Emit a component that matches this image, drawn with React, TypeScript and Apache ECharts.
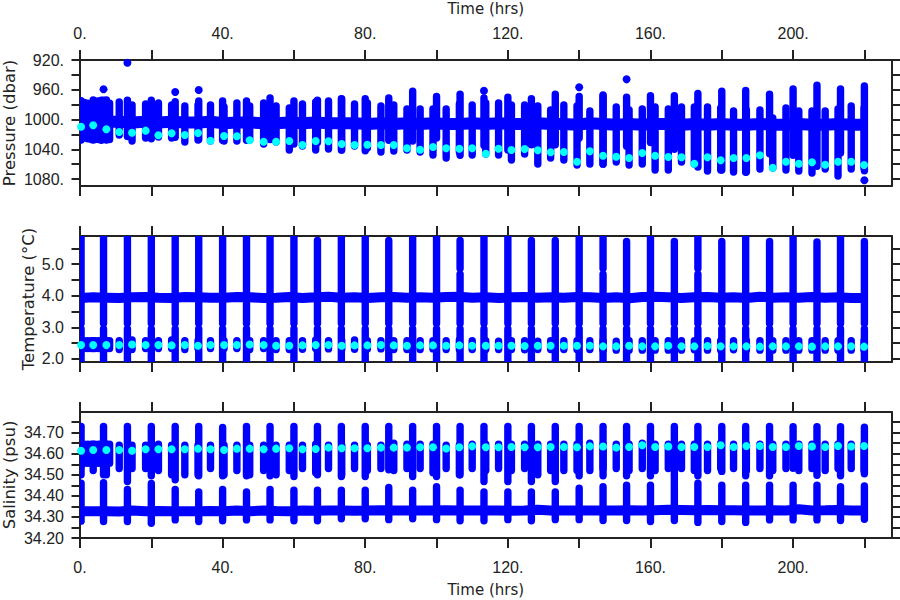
import React, { useEffect, useRef } from "react";
import * as echarts from "echarts";

const BLUE = "#0000ff";
const CYAN = "#00ffff";
const INK = "#222222";
const FONT = "'Liberation Sans', Arial, sans-serif";
const TITLE_FONT = "'DejaVu Sans', sans-serif";

const timeTicks = [0, 20, 40, 60, 80, 100, 120, 140, 160, 180, 200, 220];
const timeLabels = [0, 40, 80, 120, 160, 200];
const pressureTicks = [920, 940, 960, 980, 1000, 1020, 1040, 1060, 1080];
const pressureLabels = [920, 960, 1000, 1040, 1080];
const tempTicks = [2, 2.5, 3, 3.5, 4, 4.5, 5, 5.5];
const tempLabels = [2, 3, 4, 5];
const salTicks = [34.2, 34.25, 34.3, 34.35, 34.4, 34.45, 34.5, 34.55, 34.6, 34.65, 34.7, 34.75];
const salLabels = [34.2, 34.3, 34.4, 34.5, 34.6, 34.7];

// times of the frequent casts, marked in cyan at their deepest sample
const castTimes = [0.3, 3.7, 7.4, 11, 14.6, 18.4, 22, 25.7, 29.4, 33.1, 36.6, 40.4, 44, 47.6, 51.5, 55, 58.7, 62.4, 66.1, 69.7, 73.4, 77, 80.6, 84.4, 88, 91.7, 95.4, 99, 102.7, 106.4, 110, 113.8, 117.4, 121, 124.7, 128.4, 132, 135.7, 139.4, 143, 146.7, 150.4, 154, 157.7, 161.3, 165, 168.7, 172.3, 176, 179.7, 183.3, 186.9, 190.7, 194.3, 198, 201.6, 205.3, 209, 212.6, 216.3, 219.9];
// times of the full-depth casts
const tallTimes = [0.3, 6.6, 13.3, 20, 26.7, 33.3, 40, 46.7, 53.3, 60, 66.6, 73.3, 80, 86.6, 93.3, 100, 106.6, 113.3, 120, 126.6, 133.3, 140, 146.7, 153.3, 160, 166.7, 173.3, 180, 186.7, 193.4, 200, 206.7, 213.3, 220];
const denseTimes = [1.2, 2.2, 3.2, 4.2, 5.2, 6, 7.5, 8.3];

// pressure panel
const cyanPressure = [1009.7, 1007.8, 1013.2, 1016.8, 1017.7, 1015, 1021.2, 1018.6, 1020.8, 1018.1, 1028.5, 1022.2, 1022.6, 1028, 1029.8, 1029.8, 1028.9, 1034.3, 1028.9, 1029.3, 1032.9, 1034.3, 1033.9, 1034.3, 1034.3, 1038.7, 1040.6, 1037, 1038.7, 1039.3, 1038.7, 1046, 1039.3, 1041, 1039.7, 1041.4, 1044.1, 1043.7, 1056.7, 1042.8, 1048.7, 1050, 1051.8, 1045, 1048.7, 1050.4, 1050.8, 1059.4, 1050.8, 1054.8, 1051.8, 1051.8, 1048.1, 1064.8, 1056.7, 1059.4, 1057.5, 1060.8, 1056.7, 1056.7, 1061.2];
const castPressureTop = [975.1, 973.8, 973.8, 976.5, 980.5, 979.2, 977.8, 980.5, 981.8, 980.5, 980.5, 983.2, 977.8, 981.8, 977.8, 981.8, 984.5, 979.2, 976.5, 975.1, 972.4, 979.2, 977.8, 981.8, 980.5, 985.9, 985.9, 985.9, 985.9, 979.2, 980.5, 977.8, 977.8, 980.5, 980.5, 981.8, 987.2, 980.5, 981.8, 988.6, 968.4, 983.2, 987.2, 985.9, 983.2, 985.9, 983.2, 983.2, 983.2, 984.5, 988.6, 987.2, 987.2, 998, 984.5, 988.6, 988.6, 988.6, 985.9, 981.8, 984.5];
const castPressureBottom = [1027.6, 1027.6, 1027.6, 1020.8, 1028.9, 1024.9, 1023.5, 1024.9, 1030.2, 1027.6, 1028.9, 1028.9, 1028.9, 1027.6, 1032.9, 1030.2, 1041, 1035.6, 1041, 1039.7, 1041, 1035.6, 1038.3, 1043.7, 1042.4, 1041, 1043.7, 1047.7, 1051.8, 1043.7, 1047.7, 1046.4, 1047.7, 1054.5, 1046.4, 1059.8, 1051.8, 1054.5, 1061.2, 1059.8, 1059.8, 1057.1, 1061.2, 1059.8, 1067.9, 1067.9, 1057.1, 1059.8, 1069.2, 1067.9, 1070.6, 1070.6, 1066.6, 1065.2, 1067.9, 1069.2, 1071.9, 1066.6, 1076, 1066.6, 1065.2];
const tallPressureTop = [975, 974, 974, 974, 976, 975, 975, 975, 971, 975, 974, 972, 972, 971, 962, 969, 966, 971, 970, 972, 966, 969, 967, 970, 968, 968, 965, 962, 961, 966, 959, 954, 959, 955];
const tallPressureBottom = [1027, 1026, 1023, 1026, 1024, 1027, 1028, 1028, 1027, 1033, 1031, 1041, 1042, 1028, 1029, 1025, 1048, 1035, 1041, 1034, 1034, 1025, 1060, 1036, 1031, 1040, 1064, 1068, 1071, 1046, 1048, 1063, 1045, 1069];
const densePressureTop = [977, 978, 979, 975, 975, 974, 976, 978];
const densePressureBottom = [1025, 1026, 1027, 1027, 1027, 1028, 1027, 1027];
const pressureOutliers = [[13.3, 923.6], [6.6, 959.4], [26.7, 963], [33.3, 960.3], [113.3, 961.3], [140, 956.7], [153.3, 946], [220, 1081.7]];
const pressureBand = [1003, 1003, 1003, 1003, 1004, 1003, 1004, 1003, 1004, 1004, 1003, 1005, 1004, 1004, 1005, 1005, 1004, 1005, 1004, 1005, 1005, 1005, 1006, 1005, 1006, 1005, 1006, 1005, 1006, 1006, 1005, 1006, 1005, 1006, 1006, 1005, 1006, 1006, 1007, 1005, 1006, 1007, 1006, 1007, 1006, 1006, 1007, 1006, 1007, 1006, 1007, 1007, 1006, 1007, 1007, 1006, 1007, 1007, 1006, 1007, 1007];

// temperature panel
const cyanTemp = [2.44, 2.44, 2.44, 2.44, 2.46, 2.44, 2.44, 2.43, 2.44, 2.42, 2.44, 2.44, 2.44, 2.46, 2.44, 2.42, 2.42, 2.43, 2.44, 2.44, 2.42, 2.43, 2.43, 2.44, 2.43, 2.42, 2.43, 2.43, 2.42, 2.43, 2.42, 2.42, 2.42, 2.42, 2.41, 2.42, 2.42, 2.42, 2.42, 2.42, 2.4, 2.4, 2.42, 2.4, 2.4, 2.42, 2.4, 2.4, 2.41, 2.4, 2.4, 2.4, 2.39, 2.4, 2.4, 2.4, 2.39, 2.4, 2.4, 2.4, 2.39];
const tempTop = [6, 6, 6, 6, 6, 6, 6, 6, 6, 6, 5.75, 6, 6, 5.75, 6, 6, 5.75, 6, 6, 5.75, 5.75, 6, 6, 5.72, 6, 5.72, 6, 5.72, 6, 5.72, 6, 5.7, 6, 5.72];
const tempStubTop = [2.58, 2.58, 2.58, 2.58, 2.6, 2.58, 2.58, 2.6, 2.58, 2.58, 2.58, 2.58, 2.58, 2.58, 2.58, 2.58, 2.58, 2.58, 2.6, 2.58, 2.58, 2.6, 2.58, 2.58, 2.58, 2.58, 2.58, 2.58, 2.58, 2.6, 2.58, 2.58, 2.56, 2.58, 2.58, 2.56, 2.58, 2.58, 2.58, 2.58, 2.58, 2.56, 2.58, 2.58, 2.58, 2.58, 2.58, 2.58, 2.58, 2.58, 2.58, 2.58, 2.58, 2.58, 2.58, 2.58, 2.58, 2.58, 2.58, 2.58, 2.58];
const tempStubBottom = [2.33, 2.33, 2.33, 2.3, 2.3, 2.33, 2.33, 2.33, 2.3, 2.33, 2.33, 2.33, 2.33, 2.3, 2.33, 2.3, 2.3, 2.31, 2.33, 2.32, 2.3, 2.31, 2.32, 2.32, 2.3, 2.3, 2.3, 2.32, 2.3, 2.3, 2.3, 2.3, 2.3, 2.3, 2.29, 2.3, 2.3, 2.3, 2.3, 2.3, 2.28, 2.28, 2.28, 2.28, 2.28, 2.28, 2.28, 2.29, 2.28, 2.28, 2.29, 2.28, 2.28, 2.28, 2.28, 2.28, 2.28, 2.28, 2.28, 2.28, 2.28];
const tempBand = [3.93, 3.95, 3.94, 3.93, 3.95, 3.96, 3.94, 3.93, 3.96, 3.95, 3.94, 3.94, 3.96, 3.95, 3.93, 3.94, 3.96, 3.93, 3.95, 3.97, 3.94, 3.95, 3.93, 3.95, 3.96, 3.94, 3.95, 3.94, 3.96, 3.97, 3.94, 3.95, 3.93, 3.95, 3.96, 3.94, 3.95, 3.94, 3.96, 3.95, 3.93, 3.95, 3.92, 3.96, 3.97, 3.95, 3.93, 3.95, 3.96, 3.94, 3.95, 3.93, 3.97, 3.94, 3.95, 3.94, 3.96, 3.94, 3.95, 3.93, 3.93];
const tempNotchTimes = [106.6, 146.7, 173.3];

// salinity panel
const cyanSal = [34.614, 34.618, 34.618, 34.618, 34.614, 34.621, 34.621, 34.621, 34.621, 34.624, 34.621, 34.618, 34.624, 34.624, 34.621, 34.624, 34.626, 34.621, 34.622, 34.629, 34.626, 34.626, 34.626, 34.629, 34.629, 34.629, 34.631, 34.631, 34.625, 34.631, 34.635, 34.631, 34.631, 34.632, 34.631, 34.631, 34.632, 34.632, 34.631, 34.635, 34.634, 34.629, 34.632, 34.64, 34.632, 34.634, 34.632, 34.632, 34.632, 34.64, 34.632, 34.637, 34.637, 34.632, 34.632, 34.637, 34.634, 34.632, 34.637, 34.634, 34.637];
const salStubTop = [34.645, 34.645, 34.645, 34.64, 34.64, 34.64, 34.645, 34.64, 34.64, 34.64, 34.64, 34.64, 34.64, 34.64, 34.64, 34.64, 34.64, 34.64, 34.645, 34.64, 34.64, 34.64, 34.64, 34.64, 34.65, 34.645, 34.645, 34.645, 34.64, 34.64, 34.645, 34.645, 34.645, 34.645, 34.645, 34.645, 34.645, 34.645, 34.645, 34.65, 34.645, 34.645, 34.645, 34.65, 34.645, 34.645, 34.645, 34.645, 34.645, 34.65, 34.645, 34.645, 34.645, 34.645, 34.645, 34.645, 34.645, 34.645, 34.645, 34.645, 34.645];
const salStubBottom = [34.54, 34.52, 34.5, 34.53, 34.53, 34.53, 34.52, 34.5, 34.5, 34.5, 34.53, 34.5, 34.52, 34.5, 34.52, 34.5, 34.52, 34.53, 34.51, 34.53, 34.5, 34.53, 34.52, 34.53, 34.52, 34.53, 34.53, 34.51, 34.53, 34.5, 34.53, 34.52, 34.53, 34.52, 34.53, 34.5, 34.52, 34.52, 34.52, 34.52, 34.53, 34.53, 34.52, 34.53, 34.52, 34.53, 34.53, 34.52, 34.52, 34.53, 34.53, 34.52, 34.53, 34.52, 34.53, 34.52, 34.53, 34.52, 34.53, 34.53, 34.52];
const salUpperTop = [34.73, 34.73, 34.73, 34.73, 34.73, 34.73, 34.725, 34.73, 34.73, 34.73, 34.73, 34.73, 34.73, 34.73, 34.73, 34.73, 34.73, 34.73, 34.73, 34.73, 34.73, 34.73, 34.73, 34.73, 34.73, 34.73, 34.73, 34.73, 34.73, 34.73, 34.728, 34.728, 34.728, 34.726];
const salUpperBottom = [34.5, 34.5, 34.468, 34.495, 34.476, 34.495, 34.495, 34.495, 34.495, 34.492, 34.5, 34.492, 34.492, 34.524, 34.492, 34.492, 34.5, 34.468, 34.468, 34.468, 34.468, 34.495, 34.495, 34.495, 34.495, 34.48, 34.495, 34.516, 34.495, 34.495, 34.531, 34.498, 34.495, 34.505];
const salLowerTop = [34.46, 34.462, 34.43, 34.459, 34.43, 34.419, 34.43, 34.419, 34.43, 34.427, 34.427, 34.427, 34.427, 34.44, 34.427, 34.443, 34.427, 34.419, 34.419, 34.419, 34.419, 34.436, 34.443, 34.451, 34.451, 34.47, 34.46, 34.451, 34.451, 34.451, 34.451, 34.451, 34.443, 34.447];
const salLowerBottom = [34.28, 34.278, 34.278, 34.27, 34.286, 34.278, 34.282, 34.286, 34.286, 34.282, 34.282, 34.291, 34.291, 34.287, 34.291, 34.287, 34.282, 34.282, 34.287, 34.282, 34.287, 34.287, 34.283, 34.283, 34.278, 34.283, 34.274, 34.278, 34.274, 34.286, 34.286, 34.286, 34.283, 34.289];
const salBand = [34.327, 34.327, 34.327, 34.326, 34.33, 34.327, 34.328, 34.327, 34.327, 34.327, 34.328, 34.327, 34.33, 34.327, 34.33, 34.328, 34.327, 34.33, 34.329, 34.331, 34.33, 34.329, 34.33, 34.332, 34.331, 34.33, 34.331, 34.33, 34.332, 34.33, 34.331, 34.33, 34.331, 34.329, 34.33, 34.334, 34.33, 34.331, 34.33, 34.33, 34.331, 34.33, 34.332, 34.33, 34.332, 34.334, 34.333, 34.332, 34.333, 34.332, 34.332, 34.331, 34.33, 34.332, 34.331, 34.336, 34.331, 34.332, 34.333, 34.331, 34.33];

const COLUMN_WIDTH = 7.4;
const DOT = 8;

const columnItem = (_: any, api: any) => {
  const a = api.coord([api.value(0), api.value(1)]);
  const b = api.coord([api.value(0), api.value(2)]);
  return {
    type: "line",
    shape: { x1: a[0], y1: a[1], x2: b[0], y2: b[1] },
    style: { stroke: BLUE, lineWidth: COLUMN_WIDTH, lineCap: "round", fill: null },
  };
};

const zip3 = (ts: number[], lo: number[], hi: number[]) => ts.map((t, i) => [t, lo[i], hi[i]]);
const pairs = (ts: number[], vs: number[]) => ts.map((t, i) => [t, vs[i]]);

const pressureColumns = [
  ...zip3(tallTimes, tallPressureTop, tallPressureBottom),
  ...zip3(castTimes, castPressureTop, castPressureBottom),
  ...zip3(denseTimes, densePressureTop, densePressureBottom),
];
const tempColumns = [
  ...tallTimes.flatMap((t, i) =>
    tempNotchTimes.includes(t)
      ? [[t, 1.7, 2.95], [t, 3.12, 4.68], [t, 4.86, tempTop[i]]]
      : [[t, 1.7, 2.95], [t, 3.12, tempTop[i]]]
  ),
  ...zip3(castTimes, tempStubBottom, tempStubTop),
  ...denseTimes.map((t) => [t, 2.33, 2.58]),
];
const salColumns = [
  ...tallTimes.flatMap((t, i) => [
    [t, salLowerBottom[i], salLowerTop[i]],
    [t, salUpperBottom[i], salUpperTop[i]],
  ]),
  ...zip3(castTimes, salStubBottom, salStubTop),
  ...denseTimes.map((t) => [t, 34.555, 34.645]),
];

const panels = [
  { top: 60, height: 126, min: 920, max: 1089.4, inverse: true, ticks: pressureTicks, labels: pressureLabels, digits: -1, columns: pressureColumns, band: pressureBand, cyan: cyanPressure, outliers: pressureOutliers, bandWidth: 12, name: "Pressure (dbar)", nameGap: 62, timeLabelsAt: "top" },
  { top: 236, height: 126, min: 1.905, max: 5.89, inverse: false, ticks: tempTicks, labels: tempLabels, digits: 1, columns: tempColumns, band: tempBand, cyan: cyanTemp, outliers: [], bandWidth: 10, name: "Temperature (°C)", nameGap: 43, timeLabelsAt: "" },
  { top: 412, height: 126, min: 34.2, max: 34.798, inverse: false, ticks: salTicks, labels: salLabels, digits: 2, columns: salColumns, band: salBand, cyan: cyanSal, outliers: [], bandWidth: 10, name: "Salinity (psu)", nameGap: 62, timeLabelsAt: "bottom" },
];

const X_MIN = 0;
const X_MAX = 227.6;

function buildOption() {
  const frameLine = { show: true, onZero: false, lineStyle: { color: INK, width: 2 } };
  const grid = panels.map((p) => ({ left: 80, width: 811.5, top: p.top, height: p.height, containLabel: false, outerBoundsMode: "none" }));
  const xAxis: any[] = [];
  const yAxis: any[] = [];
  panels.forEach((p, i) => {
    (["bottom", "top"] as const).forEach((pos) => {
      const labelled = p.timeLabelsAt === pos;
      xAxis.push({
        type: "value",
        gridIndex: i,
        position: pos,
        min: X_MIN,
        max: X_MAX,
        splitLine: { show: false },
        axisLine: frameLine,
        axisTick: { show: true, inside: false, length: 10, lineStyle: { color: INK, width: 2 }, customValues: timeTicks },
        axisLabel: labelled
          ? { show: true, margin: pos === "top" ? 19 : 21, color: INK, fontFamily: FONT, fontSize: 16, customValues: timeLabels, formatter: (v: number) => `${v}.` }
          : { show: false },
        name: labelled ? "Time (hrs)" : "",
        nameLocation: "middle",
        nameGap: 44,
        nameMoveOverlap: false,
        nameTextStyle: { color: INK, fontFamily: TITLE_FONT, fontSize: 15 },
      });
    });
    (["left", "right"] as const).forEach((pos) => {
      const labelled = pos === "left";
      yAxis.push({
        type: "value",
        gridIndex: i,
        position: pos,
        inverse: p.inverse,
        min: p.min,
        max: p.max,
        splitLine: { show: false },
        axisLine: frameLine,
        axisTick: { show: true, inside: false, length: 8.5, lineStyle: { color: INK, width: 2 }, customValues: p.ticks },
        axisLabel: labelled
          ? { show: true, margin: 16, color: INK, fontFamily: FONT, fontSize: 16, customValues: p.labels, formatter: (v: number) => (p.digits < 0 ? `${v}.` : v.toFixed(p.digits)) }
          : { show: false },
        name: labelled ? p.name : "",
        nameLocation: "middle",
        nameGap: p.nameGap,
        nameMoveOverlap: false,
        nameTextStyle: { color: INK, fontFamily: TITLE_FONT, fontSize: 16.5 },
      });
    });
  });
  const series: any[] = [];
  panels.forEach((p, i) => {
    const axes = { xAxisIndex: i * 2, yAxisIndex: i * 2 };
    series.push({
      type: "line",
      ...axes,
      data: pairs(castTimes, p.band),
      symbol: "none",
      silent: true,
      clip: true,
      z: 2,
      lineStyle: { color: BLUE, width: p.bandWidth },
    });
    series.push({
      type: "custom",
      ...axes,
      data: p.columns,
      renderItem: columnItem,
      encode: { x: 0, y: [1, 2] },
      clip: true,
      silent: true,
      z: 3,
    });
    if (p.outliers.length) {
      series.push({
        type: "scatter",
        ...axes,
        data: p.outliers,
        symbol: "circle",
        symbolSize: DOT,
        clip: true,
        silent: true,
        z: 3,
        itemStyle: { color: BLUE, opacity: 1 },
      });
    }
    series.push({
      type: "scatter",
      ...axes,
      data: pairs(castTimes, p.cyan),
      symbol: "circle",
      symbolSize: DOT,
      clip: true,
      silent: true,
      z: 4,
      itemStyle: { color: CYAN, opacity: 1 },
    });
  });
  return { animation: false, backgroundColor: "#ffffff", grid, xAxis, yAxis, series };
}

export default function App() {
  const ref = useRef<HTMLDivElement>(null);
  useEffect(() => {
    document.body.style.margin = "0";
    const chart = echarts.init(ref.current!, undefined, { renderer: "svg" });
    chart.setOption(buildOption() as any);
    return () => chart.dispose();
  }, []);
  return <div ref={ref} style={{ width: 900, height: 600 }} />;
}
